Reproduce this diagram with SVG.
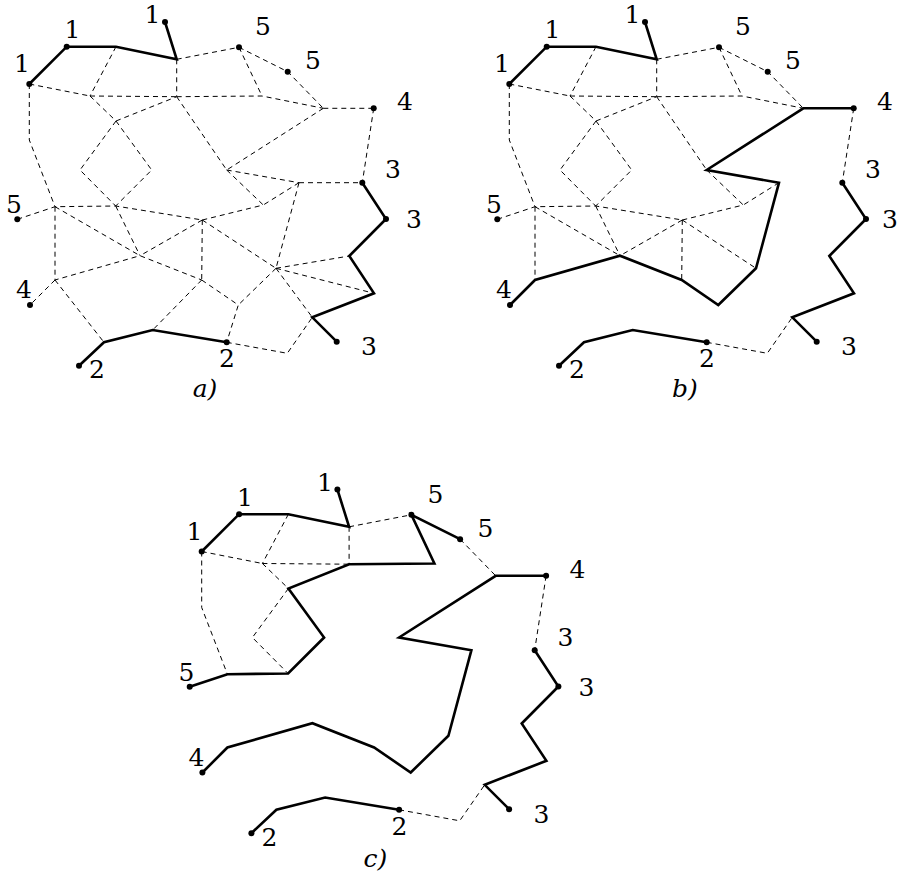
<svg xmlns="http://www.w3.org/2000/svg" width="899" height="881" viewBox="0 0 899 881">
<style>
.d{fill:none;stroke:#000;stroke-width:1;stroke-dasharray:5,4}
.s{fill:none;stroke:#000;stroke-width:2.6;stroke-linejoin:miter;stroke-linecap:round}
.p{fill:#000}
.t{font-family:'DejaVu Serif',serif;font-size:25px;text-anchor:middle;fill:#000}
.cap{font-family:'DejaVu Serif',serif;font-size:25px;font-style:italic;text-anchor:middle;fill:#000}
</style>
<rect width="899" height="881" fill="#fff"/>
<!-- Panel a -->
<g id="panel-a">
<g id="a-connectors">
<path class="d" d="M176.7,59.3L176.7,96.7 M176.7,59.3L239,47.3 M29.3,84L90,96 M90,96L176.7,96.7 M116,46.7L90,96 M90,96L116,121 M116,121L176.7,96.7 M116,121L80,170L115.7,206 M116,121L151.7,170L115.7,206 M29.3,84L29.3,140L55,206.7 M176.7,96.7L226.7,170 M176.7,96.7L262,96L323.3,108.3 M239,47.3L262,96 M239,47.3L287.7,71.7L323.3,108.3 M323.3,108.3L373.7,108.3 M323.3,108.3L226.7,170 M373.7,108.3L362.3,182.7 M226.7,170L299,182.7 M226.7,170L263.3,205 M299,182.7L362.3,182.7 M299,182.7L263.3,205 M299,182.7L276,268.3 M17.3,219.3L55,206.7L115.7,206L202.3,220 M55,206.7L140,255.7 M115.7,206L140,255.7 M202.3,220L140,255.7 M55,206.7L55,280L140,255.7L201.7,280 M202.3,220L201.7,280 M55,280L30,305 M55,280L104,342.3 M201.7,280L152.7,330 M202.3,220L263.3,205 M202.3,220L276,268.3 M276,268.3L349.3,256 M276,268.3L374,293.3 M276,268.3L312.3,317.3 M276,268.3L238.3,305 M201.7,280L238.3,305L226.7,342.3 M226.7,342.3L287.3,353.3L312.3,317.3"/>
<polyline class="s" points="29.3,84 66.7,46.7 116,46.7 176.7,59.3 165,22"/>
<polyline class="s" points="362.3,182.7 386,219 349.3,256 374,293.3 312.3,317.3 336.7,341.7"/>
<polyline class="s" points="79,365.7 104,342.3 152.7,330 226.7,342.3"/>
</g>
<g id="a-nodes">
<g id="a-n1"><circle class="p" cx="29.3" cy="84" r="3"/><text class="t" x="22" y="72">1</text></g>
<g id="a-n2"><circle class="p" cx="66.7" cy="46.7" r="3"/><text class="t" x="72.5" y="38">1</text></g>
<g id="a-n3"><circle class="p" cx="165" cy="22" r="3"/><text class="t" x="152.5" y="23">1</text></g>
<g id="a-n4"><circle class="p" cx="239" cy="47.3" r="3"/><text class="t" x="263" y="35">5</text></g>
<g id="a-n5"><circle class="p" cx="287.7" cy="71.7" r="3"/><text class="t" x="313" y="69">5</text></g>
<g id="a-n6"><circle class="p" cx="373.7" cy="108.3" r="3"/><text class="t" x="405" y="110">4</text></g>
<g id="a-n7"><circle class="p" cx="362.3" cy="182.7" r="3"/><text class="t" x="393" y="178">3</text></g>
<g id="a-n8"><circle class="p" cx="386" cy="219" r="3"/><text class="t" x="414" y="228">3</text></g>
<g id="a-n9"><circle class="p" cx="336.7" cy="341.7" r="3"/><text class="t" x="369" y="355">3</text></g>
<g id="a-n10"><circle class="p" cx="226.7" cy="342.3" r="3"/><text class="t" x="227" y="367">2</text></g>
<g id="a-n11"><circle class="p" cx="79" cy="365.7" r="3"/><text class="t" x="97" y="378">2</text></g>
<g id="a-n12"><circle class="p" cx="30" cy="305" r="3"/><text class="t" x="24" y="298">4</text></g>
<g id="a-n13"><circle class="p" cx="17.3" cy="219.3" r="3"/><text class="t" x="14" y="213">5</text></g>
</g>
<text class="cap" x="205" y="397">a)</text>
</g>

<!-- Panel b -->
<g id="panel-b" transform="translate(480,0)">
<g id="b-connectors">
<path class="d" d="M176.7,59.3L176.7,96.7 M176.7,59.3L239,47.3 M29.3,84L90,96 M90,96L176.7,96.7 M116,46.7L90,96 M90,96L116,121 M116,121L176.7,96.7 M116,121L80,170L115.7,206 M116,121L151.7,170L115.7,206 M29.3,84L29.3,140L55,206.7 M176.7,96.7L226.7,170 M176.7,96.7L262,96L323.3,108.3 M239,47.3L262,96 M239,47.3L287.7,71.7L323.3,108.3 M373.7,108.3L362.3,182.7 M226.7,170L263.3,205 M299,182.7L263.3,205 M17.3,219.3L55,206.7L115.7,206L202.3,220 M55,206.7L140,255.7 M115.7,206L140,255.7 M202.3,220L140,255.7 M55,206.7L55,280 M202.3,220L201.7,280 M202.3,220L263.3,205 M202.3,220L276,268.3 M226.7,342.3L287.3,353.3L312.3,317.3"/>
<polyline class="s" points="29.3,84 66.7,46.7 116,46.7 176.7,59.3 165,22"/>
<polyline class="s" points="362.3,182.7 386,219 349.3,256 374,293.3 312.3,317.3 336.7,341.7"/>
<polyline class="s" points="79,365.7 104,342.3 152.7,330 226.7,342.3"/>
<polyline class="s" points="30,305 55,280 140,255.7 201.7,280 238.3,305 276,268.3 299,182.7 226.7,170 323.3,108.3 373.7,108.3"/>
</g>
<g id="b-nodes">
<g id="b-n1"><circle class="p" cx="29.3" cy="84" r="3"/><text class="t" x="22" y="72">1</text></g>
<g id="b-n2"><circle class="p" cx="66.7" cy="46.7" r="3"/><text class="t" x="72.5" y="38">1</text></g>
<g id="b-n3"><circle class="p" cx="165" cy="22" r="3"/><text class="t" x="152.5" y="23">1</text></g>
<g id="b-n4"><circle class="p" cx="239" cy="47.3" r="3"/><text class="t" x="263" y="35">5</text></g>
<g id="b-n5"><circle class="p" cx="287.7" cy="71.7" r="3"/><text class="t" x="313" y="69">5</text></g>
<g id="b-n6"><circle class="p" cx="373.7" cy="108.3" r="3"/><text class="t" x="405" y="110">4</text></g>
<g id="b-n7"><circle class="p" cx="362.3" cy="182.7" r="3"/><text class="t" x="393" y="178">3</text></g>
<g id="b-n8"><circle class="p" cx="386" cy="219" r="3"/><text class="t" x="410" y="228">3</text></g>
<g id="b-n9"><circle class="p" cx="336.7" cy="341.7" r="3"/><text class="t" x="369" y="355">3</text></g>
<g id="b-n10"><circle class="p" cx="226.7" cy="342.3" r="3"/><text class="t" x="227" y="367">2</text></g>
<g id="b-n11"><circle class="p" cx="79" cy="365.7" r="3"/><text class="t" x="97" y="378">2</text></g>
<g id="b-n12"><circle class="p" cx="30" cy="305" r="3"/><text class="t" x="24" y="298">4</text></g>
<g id="b-n13"><circle class="p" cx="17.3" cy="219.3" r="3"/><text class="t" x="14" y="213">5</text></g>
</g>
<text class="cap" x="205" y="397">b)</text>
</g>

<!-- Panel c -->
<g id="panel-c" transform="translate(172.4,467.5)">
<g id="c-connectors">
<path class="d" d="M176.7,59.3L176.7,96.7 M176.7,59.3L239,47.3 M29.3,84L90,96 M90,96L176.7,96.7 M116,46.7L90,96 M90,96L116,121 M116,121L80,170L115.7,206 M29.3,84L29.3,140L55,206.7 M287.7,71.7L323.3,108.3 M373.7,108.3L362.3,182.7 M226.7,342.3L287.3,353.3L312.3,317.3"/>
<polyline class="s" points="29.3,84 66.7,46.7 116,46.7 176.7,59.3 165,22"/>
<polyline class="s" points="362.3,182.7 386,219 349.3,256 374,293.3 312.3,317.3 336.7,341.7"/>
<polyline class="s" points="79,365.7 104,342.3 152.7,330 226.7,342.3"/>
<polyline class="s" points="30,305 55,280 140,255.7 201.7,280 238.3,305 276,268.3 299,182.7 226.7,170 323.3,108.3 373.7,108.3"/>
<polyline class="s" points="287.7,71.7 239,47.3 262,96 176.7,96.7 116,121 151.7,170 115.7,206 55,206.7 17.3,219.3"/>
</g>
<g id="c-nodes">
<g id="c-n1"><circle class="p" cx="29.3" cy="84" r="3"/><text class="t" x="22" y="72">1</text></g>
<g id="c-n2"><circle class="p" cx="66.7" cy="46.7" r="3"/><text class="t" x="72.5" y="38">1</text></g>
<g id="c-n3"><circle class="p" cx="165" cy="22" r="3"/><text class="t" x="152.5" y="23">1</text></g>
<g id="c-n4"><circle class="p" cx="239" cy="47.3" r="3"/><text class="t" x="263" y="35">5</text></g>
<g id="c-n5"><circle class="p" cx="287.7" cy="71.7" r="3"/><text class="t" x="313" y="69">5</text></g>
<g id="c-n6"><circle class="p" cx="373.7" cy="108.3" r="3"/><text class="t" x="405" y="110">4</text></g>
<g id="c-n7"><circle class="p" cx="362.3" cy="182.7" r="3"/><text class="t" x="393" y="178">3</text></g>
<g id="c-n8"><circle class="p" cx="386" cy="219" r="3"/><text class="t" x="414" y="228">3</text></g>
<g id="c-n9"><circle class="p" cx="336.7" cy="341.7" r="3"/><text class="t" x="369" y="355">3</text></g>
<g id="c-n10"><circle class="p" cx="226.7" cy="342.3" r="3"/><text class="t" x="227" y="367">2</text></g>
<g id="c-n11"><circle class="p" cx="79" cy="365.7" r="3"/><text class="t" x="97" y="378">2</text></g>
<g id="c-n12"><circle class="p" cx="30" cy="305" r="3"/><text class="t" x="24" y="298">4</text></g>
<g id="c-n13"><circle class="p" cx="17.3" cy="219.3" r="3"/><text class="t" x="14" y="213">5</text></g>
</g>
<text class="cap" x="203" y="399">c)</text>
</g>
</svg>
